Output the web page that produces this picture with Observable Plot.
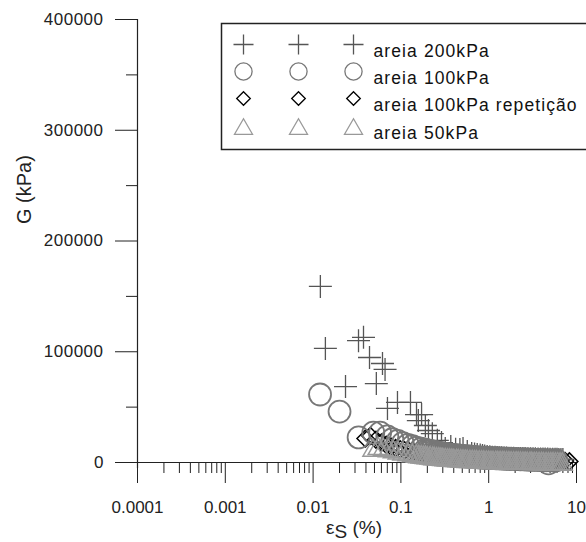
<!DOCTYPE html>
<html><head><meta charset="utf-8">
<script src="https://cdn.jsdelivr.net/npm/d3@7"></script>
<script src="https://cdn.jsdelivr.net/npm/@observablehq/plot@0.6"></script>
<style>
body{margin:0;background:#fff;}
#chart svg{display:block;font-family:"Liberation Sans",Arial,sans-serif;}
</style></head><body><div id="chart"></div>
<script>
// ---- data (strain in %, G in kPa) ----
const seriesNames = ["areia 200kPa","areia 100kPa","areia 100kPa repetição","areia 50kPa"];

const sand200Strain = [0.0121,0.0138,0.0234,0.0329,0.0375,0.0439,0.0525,0.0617,0.066,0.0703,0.0914,0.1285,0.1506,0.158,0.172,0.19,0.206,0.228,0.26,0.29,0.32,0.37,0.42,0.47,0.51,0.57,0.64,0.69,0.74,0.8,0.85,0.9,0.96,1.03,1.1,1.18,1.25,1.32,1.4,1.5,1.6,1.7,1.8,1.92,2.05,2.17,2.3,2.45,2.6,2.8,3.0,3.2,3.4,3.65,3.9,4.15,4.4,4.7,5.0,5.35,5.7,6.0,6.3,6.65,7.0];
const sand200G = [159000,103000,68600,110000,113000,94800,71300,89400,84000,48800,54200,54200,43300,37900,43300,33400,28900,26000,20000,18000,12600,14400,12000,11700,12600,9900,8100,7600,7200,6700,6300,5800,5400,5100,4800,4650,4500,4350,4200,4100,4000,3950,3900,3800,3700,3650,3600,3550,3500,3450,3400,3350,3300,3250,3200,3150,3100,3050,3000,2950,2900,2850,2800,2750,2700];

const sand100Strain = [0.0120,0.0200,0.0330,0.0485,0.058,0.070,0.080,0.092,0.105,0.12,0.135,0.15,0.17,0.19,0.20,0.21,0.22,0.235,0.25,0.26,0.275,0.29,0.305,0.32,0.34,0.36,0.38,0.40,0.42,0.45,0.47,0.50,0.53,0.56,0.60,0.63,0.67,0.71,0.75,0.80,0.85,0.90,0.95,1.0,1.07,1.15,1.22,1.3,1.4,1.5,1.6,1.7,1.85,2.0,2.15,2.3,2.5,2.7,2.9,3.1,3.35,3.6,3.9,4.2,4.5,4.8,5.0,5.3,5.6,5.9];
const sand100G = [61400,46000,22600,27000,27000,23500,21000,19500,17500,16000,14800,13500,12500,11500,11000,10500,10200,9800,9400,9000,8700,8400,8100,7800,7500,7200,7000,6800,6500,6300,6100,5900,5700,5500,5400,5200,5000,4900,4700,4600,4400,4300,4200,4100,4000,3900,3800,3700,3600,3500,3400,3300,3200,3100,3000,2900,2800,2700,2600,2500,2400,2300,2200,2100,2050,-800,2000,2000,1950,1900];

const sand100RepStrain = [0.0395,0.045,0.052,0.06,0.068,0.077,0.087,0.098,0.11,0.125,0.14,0.16,0.18,0.20,0.23,0.26,0.29,0.33,0.37,0.42,0.47,0.53,0.6,0.68,0.77,0.87,1.0,1.15,1.3,1.5,1.75,2.0,2.3,2.7,3.1,3.6,4.2,4.9,5.7,6.6,7.4,8.3];
const sand100RepG = [21700,24000,20500,18000,16000,14500,13000,12000,11000,10000,9200,8500,7800,7200,6600,6100,5600,5200,4800,4500,4200,3900,3700,3500,3300,3100,2900,2700,2600,2400,2300,2200,2100,2000,1900,1800,1700,1600,1500,1400,1300,1000];

const sand50Strain = [0.048,0.055,0.063,0.072,0.082,0.093,0.105,0.12,0.135,0.15,0.16,0.17,0.18,0.19,0.20,0.215,0.23,0.24,0.255,0.27,0.285,0.30,0.32,0.34,0.36,0.38,0.40,0.43,0.45,0.48,0.51,0.54,0.57,0.61,0.65,0.69,0.73,0.78,0.83,0.88,0.94,1.0,1.06,1.12,1.2,1.27,1.35,1.43,1.5,1.6,1.7,1.8,1.92,2.05,2.17,2.3,2.45,2.6,2.75,2.95,3.1,3.3,3.5,3.75,4.0,4.2,4.5,4.8,5.1,5.4,5.75,6.1,6.5,6.9];
const sand50G = [13500,15000,14000,13000,12000,11000,10000,9300,8600,8000,7700,7400,7100,6900,6600,6400,6100,5900,5700,5500,5300,5100,4900,4700,4550,4400,4250,4100,3950,3800,3650,3500,3400,3300,3200,3100,3000,2900,2800,2700,2600,2500,2450,2400,2350,2300,2250,2200,2150,2100,2050,2000,1950,1900,1850,1800,1750,1700,1650,1600,1550,1500,1450,1400,1350,1300,1250,1200,1150,1100,1050,1000,950,900];

const xTicks = [0.0001,0.001,0.01,0.1,1,10];
const xTickLabels = ["0.0001","0.001","0.01","0.1","1","10"];
const yTicks = [0,100000,200000,300000,400000];
const yMinorTicks = [50000,150000,250000,350000];
const xLabel = "εS (%)";
const yLabel = "G (kPa)";

// ---- symbols ----
const R = size => Math.sqrt(size/Math.PI);
const symPlus = {draw(c,s){const r=R(s);c.moveTo(-r,0);c.lineTo(r,0);c.moveTo(0,-r);c.lineTo(0,r);}};
const symDiamond = {draw(c,s){const r=R(s);c.moveTo(0,-r);c.lineTo(r,0);c.lineTo(0,r);c.lineTo(-r,0);c.closePath();}};
const symTriangle = {draw(c,s){const r=R(s);const h=r*Math.sqrt(3)/2;c.moveTo(0,-h);c.lineTo(r,h);c.lineTo(-r,h);c.closePath();}};

const styles = [
  {symbol: symPlus, stroke:"#555", r:11.5, lr:10, sw:1.3},
  {symbol: "circle", stroke:"#777", r:11, lr:8.6, sw:1.8},
  {symbol: symDiamond, stroke:"#000", r:8.5, lr:6.8, sw:1.5},
  {symbol: symTriangle, stroke:"#999", r:10, lr:9, sw:1.5}
];
const seriesData = [
  [sand200Strain, sand200G],
  [sand100Strain, sand100G],
  [sand100RepStrain, sand100RepG],
  [sand50Strain, sand50G]
].map(([xs, ys]) => xs.map((x,i) => ({x, y: ys[i]})));
const drawOrder = [2,0,1,3];

const xMinor = [];
for (let e=-4; e<1; e++) for (let m=2; m<10; m++) xMinor.push(m*Math.pow(10,e));

// ---- layout ----
const mL=137, mT=19;
const legendRowY=[44,71,98,126], legendColX=[243,298,353], legendTextX=373;

const marks = [];
marks.push(Plot.axisY({ticks: yTicks, tickSize:22, tickPadding:12, tickFormat: d=>String(d), fontSize:17, label:null, stroke:"#222", fill:"#222"}));
marks.push(Plot.axisY({ticks: yMinorTicks, tickSize:11, tickFormat: ()=>"", label:null, stroke:"#222"}));
marks.push(Plot.axisX({ticks: xTicks, tickSize:21, tickPadding:17, tickFormat: d=>xTickLabels[xTicks.indexOf(d)], fontSize:17, label:null, stroke:"#222", fill:"#222"}));
marks.push(Plot.axisX({ticks: xMinor, tickSize:11, tickFormat: ()=>"", label:null, stroke:"#222"}));
marks.push(Plot.ruleY([0], {stroke:"#222", strokeWidth:1.2}));
marks.push(Plot.ruleX([0.0001], {y1:-5500, y2:400000, stroke:"#222", strokeWidth:1.2}));
drawOrder.forEach(i=>{
  const s=styles[i];
  marks.push(Plot.dot(seriesData[i],{x:"x", y:"y", symbol:s.symbol, r:s.r, stroke:s.stroke, fill:"none", strokeWidth:s.sw}));
});
marks.push(Plot.text([yLabel],{frameAnchor:"left", dx:24-mL, dy:-17, rotate:-90, fontSize:20, fill:"#222"}));
marks.push(Plot.text([xLabel],{frameAnchor:"bottom", dx:-3, dy:71, fontSize:19, fill:"#222"}));
marks.push(Plot.frame({insetLeft:221-mL, insetTop:23-mT, insetRight:-12, insetBottom:462-149, stroke:"#222", strokeWidth:1.5, fill:"white"}));
seriesNames.forEach((name,i)=>{
  const s=styles[i];
  legendColX.forEach(cx=>{
    marks.push(Plot.dot([name],{frameAnchor:"top-left", dx:cx-mL, dy:legendRowY[i]-mT, symbol:s.symbol, r:s.lr, stroke:s.stroke, fill:"none", strokeWidth:1.3}));
  });
  marks.push(Plot.text([name],{frameAnchor:"top-left", dx:legendTextX-mL, dy:legendRowY[i]-mT, textAnchor:"start", fontSize:17.5, fill:"#111"}));
});

const svg = Plot.plot({
  width:586, height:542,
  marginLeft:mL, marginRight:10, marginTop:mT, marginBottom:80,
  x:{type:"log", domain:[0.0001,10]},
  y:{domain:[0,400000]},
  style:{fontFamily:'"Liberation Sans", Arial, sans-serif', background:"white", color:"#222", overflow:"visible"},
  marks
});
const texts = d3.select(svg).selectAll("text");
texts.filter(function(){return this.textContent===xLabel;}).each(function(){
  const t=d3.select(this); t.text(null);
  t.append("tspan").text("ε");
  t.append("tspan").attr("dy","0.25em").text("S");
  t.append("tspan").attr("dy","-0.25em").text(" (%)");
});
texts.filter(function(){return /^[0-9]{6}$/.test(this.textContent);}).style("letter-spacing","0.5px");
texts.filter(function(){return seriesNames.includes(this.textContent);}).style("letter-spacing","1.1px");
document.getElementById("chart").appendChild(svg);
</script></body></html>
